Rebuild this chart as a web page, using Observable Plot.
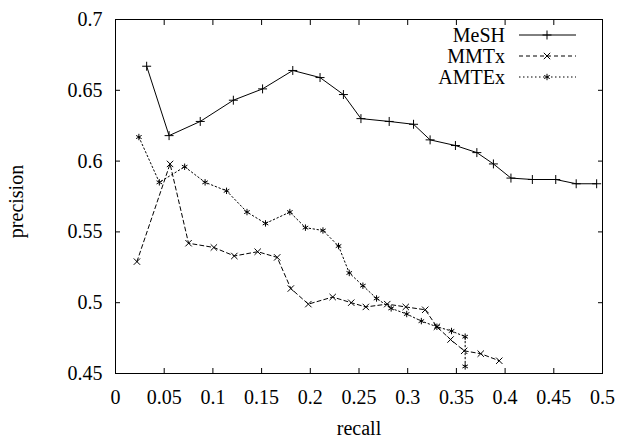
<!DOCTYPE html>
<html><head><meta charset="utf-8">
<script src="https://cdn.jsdelivr.net/npm/d3@7"></script>
<script src="https://cdn.jsdelivr.net/npm/@observablehq/plot@0.6"></script>
<style>
body{margin:0;background:#fff}
#wrap{position:relative;width:619px;height:437px;font-family:"Liberation Serif","Times New Roman",serif}
#wrap svg, #wrap svg text{font-family:"Liberation Serif","Times New Roman",serif !important;font-size:20px !important}
#legend{position:absolute;left:0;top:0}
</style>
</head><body><div id="wrap"></div>
<script>
const meshRecall = [0.032,0.055,0.087,0.121,0.151,0.182,0.210,0.234,0.252,0.281,0.306,0.323,0.349,0.371,0.388,0.406,0.428,0.452,0.473,0.494];
const meshPrecision = [0.667,0.618,0.628,0.643,0.651,0.664,0.659,0.647,0.630,0.628,0.626,0.615,0.611,0.606,0.598,0.588,0.587,0.587,0.584,0.584];

const mmtxRecall = [0.022,0.056,0.075,0.101,0.122,0.146,0.166,0.180,0.198,0.223,0.242,0.257,0.279,0.298,0.318,0.330,0.344,0.358,0.375,0.394];
const mmtxPrecision = [0.529,0.598,0.542,0.539,0.533,0.536,0.532,0.510,0.499,0.504,0.500,0.497,0.499,0.497,0.495,0.483,0.474,0.466,0.464,0.459];

const amtexRecall = [0.024,0.045,0.071,0.092,0.114,0.135,0.154,0.179,0.195,0.213,0.229,0.240,0.254,0.268,0.283,0.299,0.314,0.330,0.345,0.359,0.359];
const amtexPrecision = [0.617,0.585,0.596,0.585,0.579,0.564,0.556,0.564,0.553,0.551,0.540,0.521,0.512,0.503,0.496,0.492,0.487,0.483,0.480,0.476,0.455];

const seriesNames = ["MeSH","MMTx","AMTEx"];
const xTicks = [0,0.05,0.1,0.15,0.2,0.25,0.3,0.35,0.4,0.45,0.5];
const yTicks = [0.45,0.5,0.55,0.6,0.65,0.7];

const styles = {
  MeSH: {dash: null, symbol: "plus"},
  MMTx: {dash: "4,3", symbol: "times"},
  AMTEx: {dash: "1.5,2.5", symbol: "asterisk"}
};

function rows(name, xs, ys){ return xs.map((x,i)=>({series:name, recall:x, precision:ys[i]})); }
const data = {
  MeSH: rows("MeSH", meshRecall, meshPrecision),
  MMTx: rows("MMTx", mmtxRecall, mmtxPrecision),
  AMTEx: rows("AMTEx", amtexRecall, amtexPrecision)
};

const fmt = d3.format("~g");
const blank = () => "";
const marks = [];
for (const name of seriesNames) {
  marks.push(Plot.line(data[name], {x:"recall", y:"precision", stroke:"black", strokeWidth:1, strokeDasharray: styles[name].dash}));
  marks.push(Plot.dot(data[name], {x:"recall", y:"precision", stroke:"black", strokeWidth:1, symbol: styles[name].symbol, r:3}));
}

const chart = Plot.plot({
  width: 619, height: 437,
  marginLeft: 115, marginTop: 19, marginRight: 17, marginBottom: 64,
  style: {fontFamily: '"Liberation Serif","Times New Roman",serif', fontSize: "20px", color: "black", background: "white"},
  x: {domain:[0,0.5], label: null},
  y: {domain:[0.45,0.7], label: null},
  marks: [
    Plot.frame({stroke:"black", strokeWidth:1}),
    Plot.axisX(xTicks, {anchor:"bottom", tickSize:0, tickPadding:16, tickFormat: fmt, fontSize:20, label:"recall", labelAnchor:"center", labelOffset:61, labelArrow:"none"}),
    Plot.axisX(xTicks, {anchor:"bottom", tickSize:-5, tickFormat: blank, label:null}),
    Plot.axisX(xTicks, {anchor:"top", tickSize:-5, tickFormat: blank, label:null}),
    Plot.axisY(yTicks, {anchor:"left", tickSize:0, tickPadding:13, tickFormat: fmt, fontSize:20, label:null}),
    Plot.axisY(yTicks, {anchor:"left", tickSize:-5, tickFormat: blank, label:null}),
    Plot.axisY(yTicks, {anchor:"right", tickSize:-5, tickFormat: blank, label:null}),
    Plot.text(["precision"], {frameAnchor:"left", rotate:-90, textAnchor:"middle", lineAnchor:"top", dx:-107, dy:5, fontSize:20, fill:"black"}),
    ...marks
  ]
});
document.getElementById("wrap").appendChild(chart);

// legend
const legendY = {MeSH:35, MMTx:56, AMTEx:77};
const svg = d3.select("#wrap").append("svg").attr("id","legend").attr("width",619).attr("height",437);
for (const name of seriesNames) {
  const g = svg.append("g").attr("transform", `translate(0,${legendY[name]})`);
  g.append("text").attr("x",505).attr("y",0).attr("dy","0.35em").attr("text-anchor","end").text(name);
  g.append("line").attr("x1",519).attr("x2",576).attr("y1",0).attr("y2",0).attr("stroke","black")
    .attr("stroke-width",1).attr("stroke-dasharray", styles[name].dash);
  const sym = {plus:d3.symbolPlus, times:d3.symbolTimes, asterisk:d3.symbolAsterisk}[styles[name].symbol];
  g.append("path").attr("transform","translate(547,0)").attr("d", d3.symbol(sym, Math.PI*9)()).attr("fill","none").attr("stroke","black");
}
</script>
</body></html>
